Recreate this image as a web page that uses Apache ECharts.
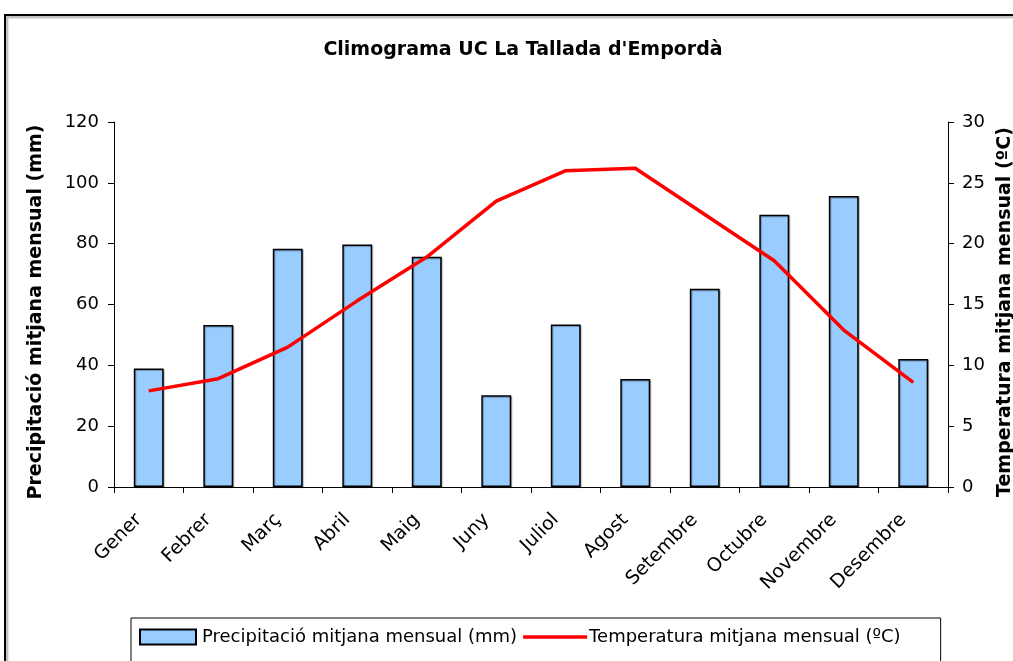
<!DOCTYPE html>
<html>
<head>
<meta charset="utf-8">
<script src="https://cdn.jsdelivr.net/npm/echarts@6/dist/echarts.min.js"></script>
<style>html,body{margin:0;padding:0;background:#fff;}#c{width:1013px;height:661px;}</style>
</head>
<body>
<div id="c"></div>
<script>
const months = ['Gener','Febrer','Març','Abril','Maig','Juny','Juliol','Agost','Setembre','Octubre','Novembre','Desembre'];
const precipitation = [39.0, 53.3, 78.3, 79.7, 75.7, 30.2, 53.4, 35.5, 65.2, 89.5, 95.7, 42.1];
const temperature = [7.9, 8.9, 11.5, 15.3, 18.9, 23.5, 26.0, 26.2, 22.4, 18.6, 12.9, 8.6];
const precipTicks = [0, 20, 40, 60, 80, 100, 120];
const tempTicks = [0, 5, 10, 15, 20, 25, 30];

const FONT = 'DejaVu Sans';
const chart = echarts.init(document.getElementById('c'), null, {renderer: 'canvas'});
chart.setOption({
  animation: false,
  backgroundColor: '#fff',
  textStyle: {fontFamily: FONT, color: '#000'},
  graphic: [{
    type: 'rect',
    shape: {x: 5, y: 15, width: 1200, height: 800},
    style: {fill: 'none', stroke: '#000', lineWidth: 2, shadowColor: 'rgba(0,0,0,0.35)', shadowOffsetX: 2, shadowOffsetY: 2, shadowBlur: 2},
    z: 100, silent: true
  }],
  title: {
    text: "Climograma UC La Tallada d'Empordà",
    left: 518, top: 36, textAlign: 'center',
    textStyle: {fontFamily: FONT, fontSize: 19, fontWeight: 'bold', color: '#000'}
  },
  legend: {
    left: 131, top: 618,
    padding: [10, 40, 40, 8],
    borderColor: '#000', borderWidth: 1,
    itemWidth: 64, itemHeight: 15, itemGap: 6,
    textStyle: {fontFamily: FONT, fontSize: 18, color: '#000', padding: [0, 0, 0, -3]},
    data: [
      {name: 'Precipitació mitjana mensual (mm)', icon: 'path://M0,0L56,0L56,15L0,15Z'},
      {name: 'Temperatura mitjana mensual (ºC)', icon: 'path://M0,0L64,0L64,3.5L0,3.5Z'}
    ]
  },
  grid: {left: 114, right: 65, top: 122, bottom: 174, containLabel: false, outerBoundsMode: 'none'},
  xAxis: {
    type: 'category', data: months, boundaryGap: true,
    axisLine: {lineStyle: {color: '#000', width: 1}},
    axisTick: {show: true, length: 6, lineStyle: {color: '#000'}, alignWithLabel: false},
    axisLabel: {rotate: 45, fontFamily: FONT, fontSize: 19, color: '#000', margin: 20, interval: 0,
      padding: [0, 14, 0, 0]}
  },
  yAxis: [{
    type: 'value', min: 0, max: 120, interval: 20, position: 'left',
    name: 'Precipitació mitjana mensual (mm)', nameLocation: 'middle', nameGap: 68,
    nameTextStyle: {fontFamily: FONT, fontSize: 19, fontWeight: 'bold', color: '#000', padding: [0, 15, 0, 0]},
    axisLine: {show: true, lineStyle: {color: '#000', width: 1}},
    axisTick: {show: true, length: 6, lineStyle: {color: '#000'}},
    axisLabel: {fontFamily: FONT, fontSize: 18, color: '#000', margin: 15,
      formatter: v => precipTicks.includes(v) ? String(v) : ''},
    splitLine: {show: false}
  }, {
    type: 'value', min: 0, max: 30, interval: 5, position: 'right',
    name: 'Temperatura mitjana mensual (ºC)', nameLocation: 'middle', nameGap: 47,
    nameTextStyle: {fontFamily: FONT, fontSize: 19, fontWeight: 'bold', color: '#000', padding: [0, 15, 0, 0]},
    axisLine: {show: true, lineStyle: {color: '#000', width: 1}},
    axisTick: {show: true, length: 6, lineStyle: {color: '#000'}},
    axisLabel: {fontFamily: FONT, fontSize: 18, color: '#000', margin: 14,
      formatter: v => tempTicks.includes(v) ? String(v) : ''},
    splitLine: {show: false}
  }],
  series: [{
    name: 'Precipitació mitjana mensual (mm)', type: 'bar', yAxisIndex: 0,
    data: precipitation, barCategoryGap: '57%',
    itemStyle: {color: '#99CCFF', borderColor: '#000', borderWidth: 1.5,
      shadowColor: 'rgba(0,0,0,0.3)', shadowOffsetX: 1, shadowOffsetY: 1, shadowBlur: 1}
  }, {
    name: 'Temperatura mitjana mensual (ºC)', type: 'line', yAxisIndex: 1,
    data: temperature, symbol: 'none', smooth: false,
    lineStyle: {color: '#FF0000', width: 3.5}, itemStyle: {color: '#FF0000'}, z: 5
  }]
});
</script>
</body>
</html>
